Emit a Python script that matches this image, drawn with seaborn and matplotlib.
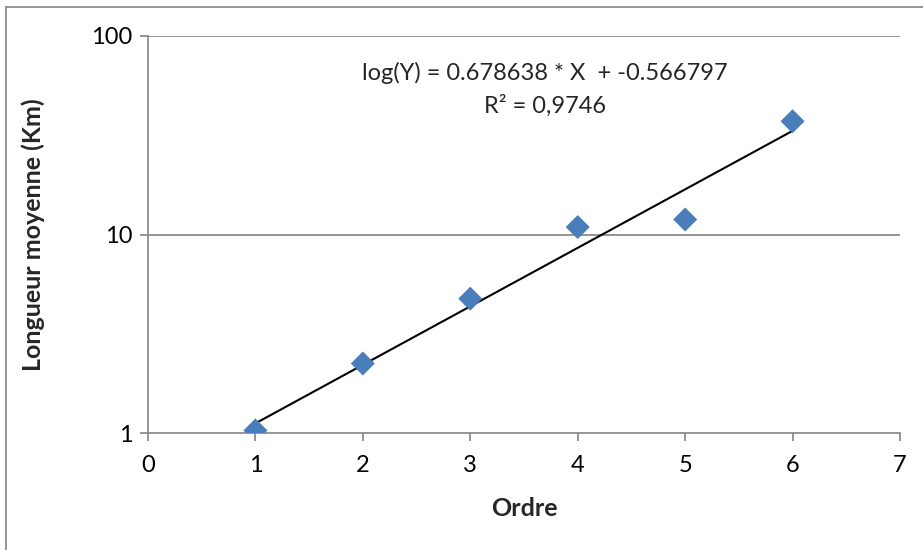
import numpy as np
import pandas as pd
import matplotlib
matplotlib.use("Agg")
import matplotlib.pyplot as plt
import seaborn as sns
from matplotlib.patches import Rectangle

ordre = [1, 2, 3, 4, 5, 6]
longueur = [1.03, 2.24, 4.75, 10.9, 11.9, 37.2]
slope = 0.678638
intercept = -0.566797
r2_label = "R² = 0,9746"
eq_label = "log(Y) = 0.678638 * X  + -0.566797"
xticks = [0, 1, 2, 3, 4, 5, 6, 7]
yticks = [1, 10, 100]

sns.set_theme(style="white")
plt.rcParams['font.family'] = ['Lato', 'DejaVu Sans']

fig = plt.figure(figsize=(9.23, 5.5), dpi=100)
fig.patches.append(Rectangle((6/923, -0.1), 1.2, 1 - 7/550 + 0.1, transform=fig.transFigure,
                             fill=False, edgecolor='#8c8c8c', linewidth=1.3))
ax = fig.add_axes([148/923, 1 - 433/550, (900-148)/923, (433-36)/550])

df = pd.DataFrame({"Ordre": ordre, "Longueur": longueur})
fit_x = np.array([ordre[0], ordre[-1]], dtype=float)
fit = pd.DataFrame({"x": fit_x, "y": np.exp(slope * fit_x + intercept)})

ax.set_yscale('log')
ax.set_xlim(0, 7)
ax.set_ylim(1, 100)

for yv in [10, 100]:
    ax.axhline(yv, color='#8c8c8c', lw=1.3, zorder=0)

sns.lineplot(data=fit, x="x", y="y", ax=ax, color='black', lw=1.5, zorder=2)
sns.scatterplot(data=df, x="Ordre", y="Longueur", ax=ax, marker='D', s=150,
                color='#4a7ebb', edgecolor='none', zorder=3)

ax.set_xticks(xticks)
ax.set_xticklabels([str(t) for t in xticks])
ax.set_yticks(yticks)
ax.set_yticklabels([str(t) for t in yticks])
ax.yaxis.set_minor_locator(matplotlib.ticker.NullLocator())
ax.tick_params(axis='both', which='major', direction='out', length=6, width=1.3,
               color='#8c8c8c', labelsize=17, labelcolor='black')
ax.tick_params(axis='x', pad=10)
ax.tick_params(axis='y', pad=5)
ax.tick_params(left=True, bottom=True)

for s in ['top', 'right']:
    ax.spines[s].set_visible(False)
for s in ['left', 'bottom']:
    ax.spines[s].set_color('#8c8c8c')
    ax.spines[s].set_linewidth(1.3)

ax.set_xlabel("Ordre", fontsize=18, fontweight='bold')
ax.set_ylabel("Longueur moyenne (Km)", fontsize=18, fontweight='bold')
ax.xaxis.set_label_coords(0.5, -(508 - 433) / 397, transform=ax.transAxes)
ax.yaxis.set_label_coords(-(148 - 33) / 752, 0.5, transform=ax.transAxes)
ax.xaxis.label.set_va('center')
ax.yaxis.label.set_va('center')

fig.text(545/923, 1 - 73/550, eq_label, fontsize=17, ha='center', va='center')
fig.text(545/923, 1 - 106/550, r2_label, fontsize=17, ha='center', va='center')

fig.savefig("out.png", dpi=100)
